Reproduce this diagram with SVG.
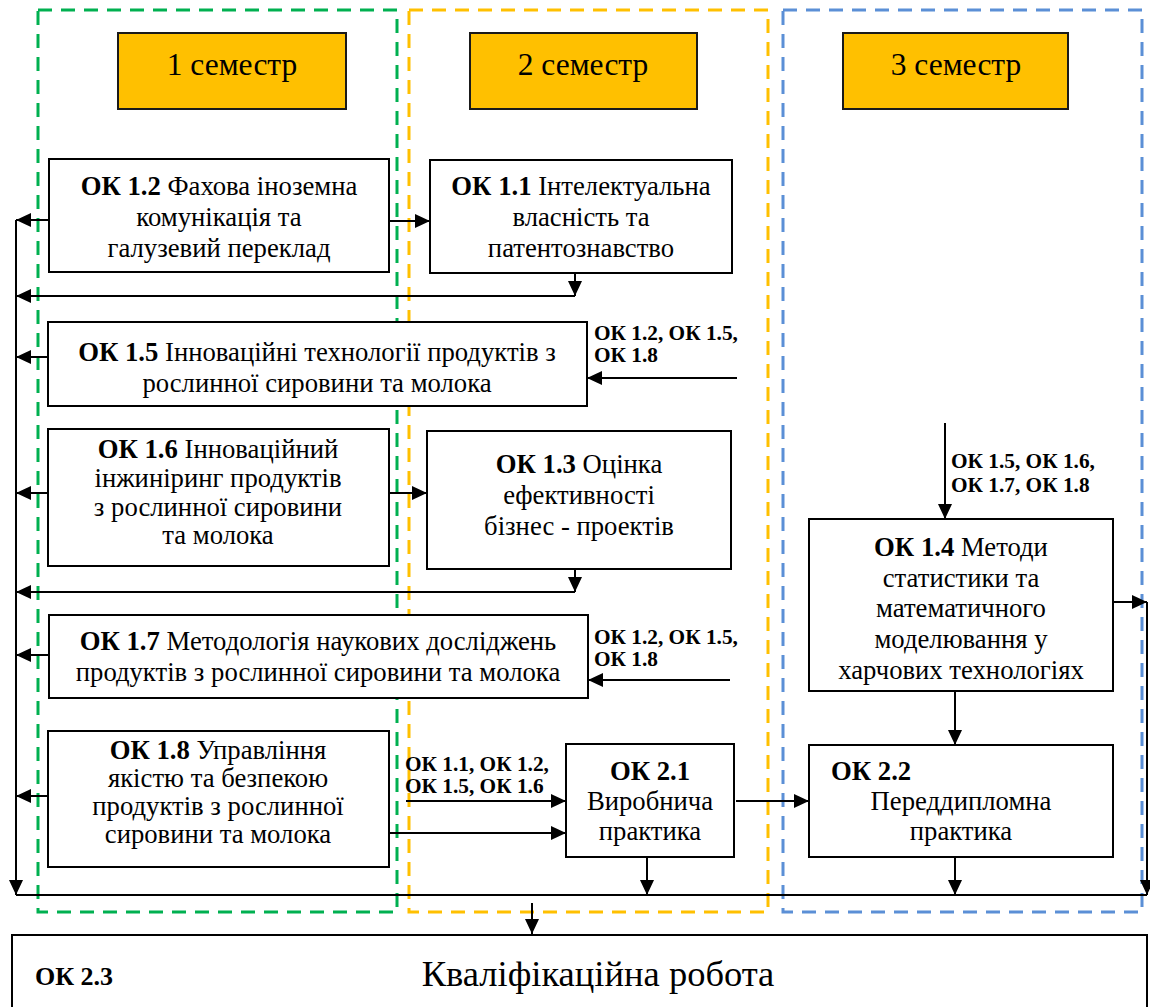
<svg xmlns="http://www.w3.org/2000/svg" width="1150" height="1007" viewBox="0 0 1150 1007">
<style>
text{font-family:"Liberation Serif","Tinos","Times New Roman","DejaVu Serif",serif;fill:#000}
.t{font-size:26.7px;text-anchor:middle}
.h{font-size:31.5px;text-anchor:middle}
.b{font-weight:bold}
.lbl{font-size:21.3px;font-weight:bold}
.box{fill:#fff;stroke:#000;stroke-width:2}
.sem{fill:#FFC000;stroke:#1a1a1a;stroke-width:2}
.zone{fill:none;stroke-width:3;stroke-dasharray:14 9}
.c{fill:none;stroke:#000;stroke-width:2}
</style>
<defs>
<marker id="ah" markerUnits="userSpaceOnUse" markerWidth="16" markerHeight="14" refX="15" refY="7" orient="auto">
<path d="M0,0 L15,7 L0,14 Z" fill="#000"/>
</marker>
</defs>
<g id="zones">
<rect class="zone" x="38" y="10" width="359" height="902" stroke="#00B050"/>
<rect class="zone" x="409" y="10" width="359" height="902" stroke="#FFC000"/>
<rect class="zone" x="783" y="10" width="359" height="902" stroke="#5B8FD6"/>
</g>
<g id="sem1"><rect class="sem" x="118" y="33" width="228" height="76"/><text class="h" x="232" y="75">1 семестр</text></g>
<g id="sem2"><rect class="sem" x="470" y="33" width="227" height="76"/><text class="h" x="583" y="75">2 семестр</text></g>
<g id="sem3"><rect class="sem" x="843" y="33" width="225" height="76"/><text class="h" x="956" y="75">3 семестр</text></g>
<g id="ok12"><rect class="box" x="49" y="159" width="340" height="113"/>
<text class="t" x="219" y="195"><tspan class="b">ОК 1.2</tspan> Фахова іноземна</text>
<text class="t" x="219" y="226">комунікація та</text>
<text class="t" x="219" y="257">галузевий переклад</text></g>
<g id="ok11"><rect class="box" x="430" y="160" width="302" height="113"/>
<text class="t" x="581" y="195"><tspan class="b">ОК 1.1</tspan> Інтелектуальна</text>
<text class="t" x="581" y="226">власність та</text>
<text class="t" x="581" y="257">патентознавство</text></g>
<g id="ok15"><rect class="box" x="48" y="322" width="539" height="84"/>
<text class="t" x="317" y="361"><tspan class="b">ОК 1.5</tspan> Інноваційні технології продуктів з</text>
<text class="t" x="317" y="392">рослинної сировини та молока</text></g>
<g id="ok16"><rect class="box" x="48" y="429" width="341" height="137"/>
<text class="t" x="218" y="458"><tspan class="b">ОК 1.6</tspan> Інноваційний</text>
<text class="t" x="218" y="487">інжиніринг продуктів</text>
<text class="t" x="218" y="516">з рослинної сировини</text>
<text class="t" x="218" y="544">та молока</text></g>
<g id="ok13"><rect class="box" x="427" y="431" width="304" height="138"/>
<text class="t" x="579" y="473"><tspan class="b">ОК 1.3</tspan> Оцінка</text>
<text class="t" x="579" y="504">ефективності</text>
<text class="t" x="579" y="535">бізнес - проектів</text></g>
<g id="ok17"><rect class="box" x="49" y="615" width="539" height="83"/>
<text class="t" x="318" y="650"><tspan class="b">ОК 1.7</tspan> Методологія наукових досліджень</text>
<text class="t" x="318" y="681">продуктів з рослинної сировини та молока</text></g>
<g id="ok18"><rect class="box" x="48" y="731" width="341" height="136"/>
<text class="t" x="218" y="759"><tspan class="b">ОК 1.8</tspan> Управління</text>
<text class="t" x="218" y="787">якістю та безпекою</text>
<text class="t" x="218" y="815">продуктів з рослинної</text>
<text class="t" x="218" y="843">сировини та молока</text></g>
<g id="ok21"><rect class="box" x="566" y="744" width="168" height="113"/>
<text class="t" x="650" y="780"><tspan class="b">ОК 2.1</tspan></text>
<text class="t" x="650" y="810">Виробнича</text>
<text class="t" x="650" y="840">практика</text></g>
<g id="ok14"><rect class="box" x="809" y="519" width="304" height="172"/>
<text class="t" x="961" y="556"><tspan class="b">ОК 1.4</tspan> Методи</text>
<text class="t" x="961" y="587">статистики та</text>
<text class="t" x="961" y="617">математичного</text>
<text class="t" x="961" y="648">моделювання у</text>
<text class="t" x="961" y="679">харчових технологіях</text></g>
<g id="ok22"><rect class="box" x="809" y="745" width="304" height="112"/>
<text class="t b" x="831" y="780" style="text-anchor:start">ОК 2.2</text>
<text class="t" x="961" y="810">Переддипломна</text>
<text class="t" x="961" y="840">практика</text></g>
<g id="ok23"><rect class="box" x="12" y="935" width="1135" height="80"/>
<text class="b" x="35" y="985" style="font-size:26px">ОК 2.3</text>
<text class="t" x="598" y="986" style="font-size:36.5px">Кваліфікаційна робота</text></g>
<g id="connectors">
<path class="c" d="M49,220 H16" marker-end="url(#ah)"/>
<path class="c" d="M16,220 V895" marker-end="url(#ah)"/>
<path class="c" d="M16,895 H1147"/>
<path class="c" d="M389,221 H430" marker-end="url(#ah)"/>
<path class="c" d="M575,273 V296" marker-end="url(#ah)"/>
<path class="c" d="M575,296 H16" marker-end="url(#ah)"/>
<path class="c" d="M48,357 H16" marker-end="url(#ah)"/>
<path class="c" d="M737,378 H587" marker-end="url(#ah)"/>
<path class="c" d="M48,493 H16" marker-end="url(#ah)"/>
<path class="c" d="M389,493 H427" marker-end="url(#ah)"/>
<path class="c" d="M575,569 V592" marker-end="url(#ah)"/>
<path class="c" d="M575,592 H16" marker-end="url(#ah)"/>
<path class="c" d="M49,655 H16" marker-end="url(#ah)"/>
<path class="c" d="M730,680 H588" marker-end="url(#ah)"/>
<path class="c" d="M48,796 H16" marker-end="url(#ah)"/>
<path class="c" d="M406,801 H566" marker-end="url(#ah)"/>
<path class="c" d="M389,833 H566" marker-end="url(#ah)"/>
<path class="c" d="M736,801 H809" marker-end="url(#ah)"/>
<path class="c" d="M647,857 V895" marker-end="url(#ah)"/>
<path class="c" d="M945,423 V519" marker-end="url(#ah)"/>
<path class="c" d="M955,691 V745" marker-end="url(#ah)"/>
<path class="c" d="M955,857 V895" marker-end="url(#ah)"/>
<path class="c" d="M1113,602 H1147" marker-end="url(#ah)"/>
<path class="c" d="M1147,602 V895" marker-end="url(#ah)"/>
<path class="c" d="M532,903 V934" marker-end="url(#ah)"/>
<text class="lbl" x="594" y="340">ОК 1.2, ОК 1.5,</text>
<text class="lbl" x="594" y="362">ОК 1.8</text>
<text class="lbl" x="594" y="644">ОК 1.2, ОК 1.5,</text>
<text class="lbl" x="594" y="666">ОК 1.8</text>
<text class="lbl" x="405" y="771">ОК 1.1, ОК 1.2,</text>
<text class="lbl" x="405" y="793">ОК 1.5, ОК 1.6</text>
<text class="lbl" x="951" y="468">ОК 1.5, ОК 1.6,</text>
<text class="lbl" x="951" y="492">ОК 1.7, ОК 1.8</text>
</g>
</svg>
